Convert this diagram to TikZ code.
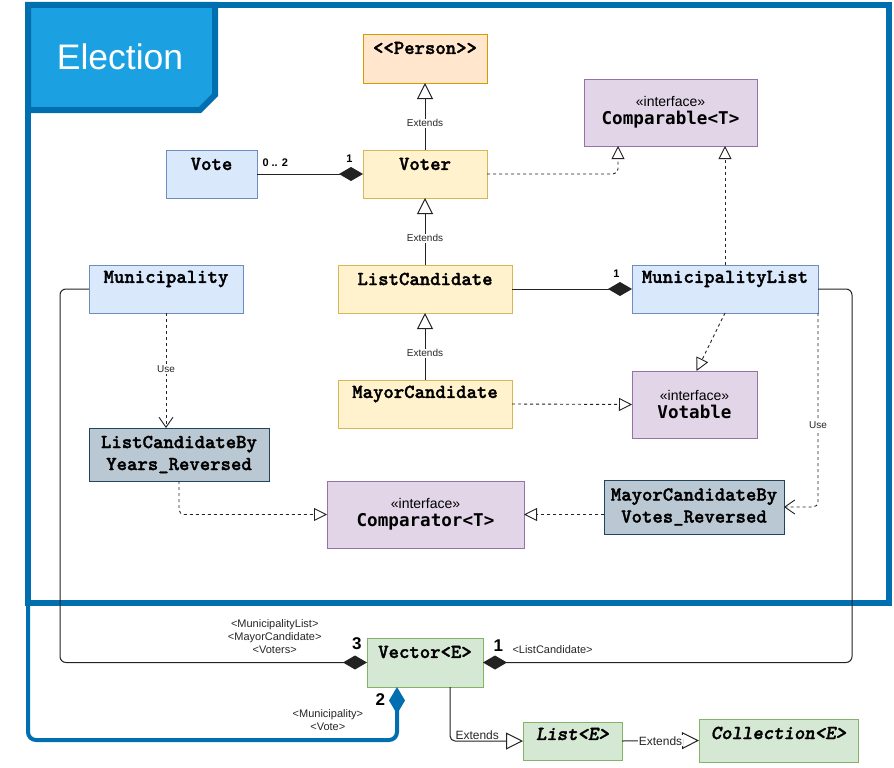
\documentclass[tikz,border=0pt]{standalone}
\usepackage{fontspec}
\setmainfont{Liberation Sans}
\newfontfamily\dvm{DejaVu Sans Mono}
\newfontfamily\courb{lmmonolt10-bold.otf}[FakeBold=1.6]
\newfontfamily\courbi{lmmonolt10-boldoblique.otf}[FakeBold=1.6]
\usetikzlibrary{arrows.meta}
\definecolor{frameblue}{HTML}{006EAF}
\definecolor{tabblue}{HTML}{1BA1E2}
\definecolor{orF}{HTML}{FFE6CC}\definecolor{orD}{HTML}{D79B00}
\definecolor{yeF}{HTML}{FFF2CC}\definecolor{yeD}{HTML}{D6B656}
\definecolor{blF}{HTML}{DAE8FC}\definecolor{blD}{HTML}{6C8EBF}
\definecolor{puF}{HTML}{E1D5E7}\definecolor{puD}{HTML}{9673A6}
\definecolor{grF}{HTML}{BAC8D3}\definecolor{grD}{HTML}{23445D}
\definecolor{gnF}{HTML}{D5E8D4}\definecolor{gnD}{HTML}{82B366}
\definecolor{linec}{HTML}{222222}
\newcommand\ifc[1]{{\fontsize{14}{17}\selectfont «interface»}\\[4pt]{\dvm\bfseries\fontsize{17.6}{20}\selectfont #1}}
\tikzset{
  cls/.style={draw, line width=0.8pt, anchor=north west, inner sep=0pt, outer sep=0pt},
  orange/.style={cls, fill=orF, draw=orD},
  yellowc/.style={cls, fill=yeF, draw=yeD},
  bluec/.style={cls, fill=blF, draw=blD},
  purplec/.style={cls, fill=puF, draw=puD, align=center},
  grayc/.style={cls, fill=grF, draw=grD, align=center, font=\courb\fontsize{19.8}{22}\selectfont},
  greenc/.style={cls, fill=gnF, draw=gnD},
  ctext/.style={inner sep=0pt, font=\courb\fontsize{19.8}{22}\selectfont},
  itext/.style={inner sep=0pt, font=\courbi\fontsize{19.8}{22}\selectfont},
  lbl/.style={font=\fontsize{10}{12}\selectfont, fill=white, inner sep=1pt, text=black!85},
  lblbig/.style={font=\fontsize{12}{14}\selectfont, fill=white, inner sep=1pt, text=black!85},
  smalllbl/.style={font=\fontsize{11}{13}\selectfont, inner sep=0pt, align=center, text=black!85},
  mult/.style={font=\bfseries\fontsize{11}{13}\selectfont, inner sep=0pt},
  bigmult/.style={font=\bfseries\fontsize{17}{19}\selectfont, inner sep=0pt},
  solidl/.style={draw=linec, line width=1pt},
  ext/.style={solidl, -{Triangle[length=16pt,width=16pt,fill=white]}},
  extb/.style={solidl, -{Triangle[length=17pt,width=17pt,fill=white]}},
  dep/.style={draw=linec, line width=0.9pt, dash pattern=on 3pt off 3pt, -{Triangle[length=13pt,width=13pt,fill=white]}},
  usel/.style={draw=linec, line width=0.9pt, dash pattern=on 3pt off 3pt, -{Straight Barb[length=10pt,width=14pt]}},
  compo/.style={solidl, -{Diamond[length=24pt,width=14pt]}},
}
\begin{document}
\begin{tikzpicture}[x=1pt,y=-1pt]
\useasboundingbox (0,0) rectangle (894,768);
% package frame
\node[draw=frameblue, line width=6pt, minimum width=861pt, minimum height=598pt, anchor=north west, inner sep=0pt, outer sep=0pt] (election) at (28,5) {};
\draw[draw=frameblue, fill=tabblue, line width=6pt, line join=miter] (28,5) -- (215,5) -- (215,95) -- (200,110) -- (28,110) -- cycle;
\node[text=white, font=\fontsize{35.5}{40}\selectfont, inner sep=0pt] (title) at (120,57) {Election};

% classes
\node[orange, minimum width=124pt, minimum height=49pt] (person) at (363,34) {};
\node[ctext] (person-t) at ([yshift=-14pt]person.north) {{<}{<}Person{>}{>}};
\node[yellowc, minimum width=124pt, minimum height=48pt] (voter) at (363,150) {};
\node[ctext] (voter-t) at ([yshift=-14pt]voter.north) {Voter};
\node[bluec, minimum width=91pt, minimum height=48pt] (vote) at (166,150) {};
\node[ctext] (vote-t) at ([yshift=-14pt]vote.north) {Vote};
\node[purplec, minimum width=173pt, minimum height=67pt] (comparable) at (584,79) {\ifc{Comparable<T>}};
\node[bluec, minimum width=154pt, minimum height=48pt] (municipality) at (89,265) {};
\node[ctext] (municipality-t) at ([yshift=-14pt]municipality.north) {Municipality};
\node[yellowc, minimum width=174pt, minimum height=48pt] (listcand) at (338,265) {};
\node[ctext] (listcand-t) at ([yshift=-14pt]listcand.north) {ListCandidate};
\node[bluec, minimum width=186pt, minimum height=48pt] (munlist) at (632,265) {};
\node[ctext] (munlist-t) at ([yshift=-14pt]munlist.north) {MunicipalityList};
\node[yellowc, minimum width=174pt, minimum height=48pt] (mayor) at (338,380) {};
\node[ctext] (mayor-t) at ([yshift=-14pt]mayor.north) {MayorCandidate};
\node[purplec, minimum width=125pt, minimum height=67pt] (votable) at (632,371) {\ifc{Votable}};
\node[grayc, minimum width=180pt, minimum height=53pt] (lcby) at (89,428) {ListCandidateBy\\Years\_Reversed};
\node[purplec, minimum width=197pt, minimum height=67pt] (comparator) at (327,481) {\ifc{Comparator<T>}};
\node[grayc, minimum width=180pt, minimum height=54pt] (mcbv) at (604,480) {MayorCandidateBy\\Votes\_Reversed};
\node[greenc, minimum width=116pt, minimum height=49pt] (vector) at (367,638) {};
\node[ctext] (vector-t) at ([yshift=-14pt]vector.north) {Vector<E>};
\node[greenc, minimum width=99pt, minimum height=38pt] (list) at (523,722) {};
\node[itext] (list-t) at ([yshift=-12pt]list.north) {List<E>};
\node[greenc, minimum width=159pt, minimum height=43pt] (collection) at (699,719) {};
\node[itext] (collection-t) at ([yshift=-14pt]collection.north) {Collection<E>};

% generalisations
\draw[ext] (voter.north) -- node[lbl, pos=0.4] {Extends} (person.south);
\draw[ext] (listcand.north) -- node[lbl, pos=0.4] {Extends} (voter.south);
\draw[ext] (mayor.north) -- node[lbl, pos=0.4] {Extends} (listcand.south);

% compositions
\draw[compo] (vote.east) -- (voter.west)
  node[mult, at start, anchor=south west, xshift=5pt, yshift=7pt] {0 .. 2}
  node[mult, at end, anchor=south east, xshift=-10pt, yshift=11pt] {1};
\draw[compo] (listcand.east) -- (munlist.west)
  node[mult, at end, anchor=south east, xshift=-12pt, yshift=11pt] {1};

% realisations
\draw[dep, rounded corners=5pt] (voter.east) -| ([xshift=-52.5pt]comparable.south);
\draw[dep] (munlist.north) -- (munlist.north |- comparable.south);
\draw[dep] (munlist.south) -- ([xshift=2pt]votable.north);
\draw[dep] (mayor.east) -- (votable.west);
\draw[dep, rounded corners=5pt] (lcby.south) |- (comparator.west);
\draw[dep] (comparator.east -| mcbv.west) -- (comparator.east);

% uses
\draw[usel] (municipality.south) -- node[lbl, pos=0.49] {Use} (municipality.south |- lcby.north);
\draw[usel, rounded corners=5pt] (munlist.south east) |- node[lbl, pos=0.29] {Use} (mcbv.east);

% Vector compositions
\draw[compo, rounded corners=6pt] (municipality.west) -- ++(-29,0) |- (vector.west)
  node[bigmult, at end, anchor=south east, xshift=-5pt, yshift=12.5pt] {3}
  node[smalllbl, at end, anchor=south east, xshift=-45pt, yshift=8.5pt] {<MunicipalityList>\\<MayorCandidate>\\<Voters>};
\draw[compo, rounded corners=6pt] (munlist.east) -- ++(34,0) |- (vector.east)
  node[bigmult, at end, anchor=south west, xshift=10pt, yshift=10.5pt] {1}
  node[smalllbl, at end, anchor=south west, xshift=29pt, yshift=8.5pt] {<ListCandidate>};
\draw[draw=frameblue, line width=4pt, rounded corners=8pt, -{Diamond[length=27pt,width=16pt]}]
  (election.south west) -- ++(0,137) -| ([xshift=-28pt]vector.south)
  node[bigmult, at end, anchor=north east, xshift=-10pt, yshift=-5pt] {2}
  node[smalllbl, at end, anchor=north east, xshift=-32pt, yshift=-21pt] {<Municipality>\\<Vote>};

% Vector extends
\draw[extb, rounded corners=5pt] ([xshift=25pt]vector.south) |- (list.west)
  node[pos=0.5, anchor=south west, font=\fontsize{12}{14}\selectfont, inner sep=1pt, xshift=4pt, text=black!85] {Extends};
\draw[extb] (list.east) -- node[lblbig] {Extends} (collection.west);
\end{tikzpicture}
\end{document}
